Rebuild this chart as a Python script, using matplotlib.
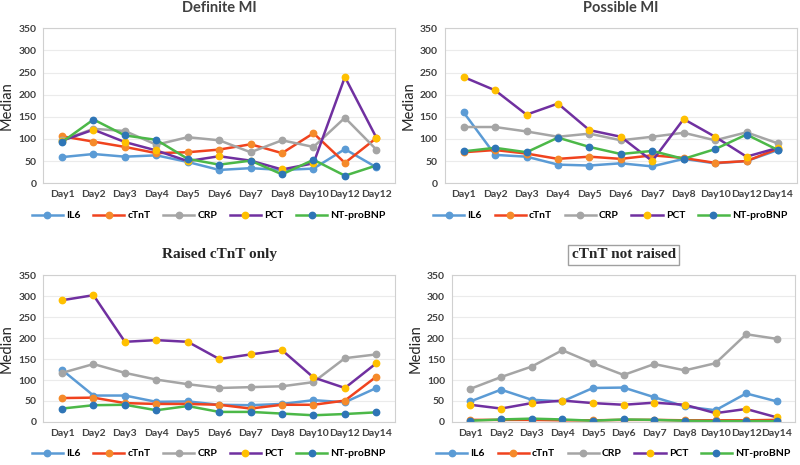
import numpy as np
import matplotlib
matplotlib.use('Agg')
import matplotlib.pyplot as plt

plt.rcParams['font.family'] = ['Lato', 'DejaVu Sans']

series = ['IL6', 'cTnT', 'CRP', 'PCT', 'NT-proBNP']
days_top1 = ['Day1', 'Day2', 'Day3', 'Day4', 'Day5', 'Day6', 'Day7', 'Day8', 'Day10', 'Day12', 'Day12']
days = ['Day1', 'Day2', 'Day3', 'Day4', 'Day5', 'Day6', 'Day7', 'Day8', 'Day10', 'Day12', 'Day14']

# Definite MI
def_il6 = [59, 66, 60, 63, 48, 30, 34, 30, 33, 77, 36]
def_ctnt = [106, 94, 82, 68, 70, 76, 88, 68, 113, 46, 102]
def_crp = [97, 123, 118, 87, 104, 97, 70, 97, 82, 148, 76]
def_pct = [96, 121, 93, 74, 50, 61, 51, 31, 45, 240, 103]
def_bnp = [93, 144, 108, 98, 55, 42, 51, 20, 53, 17, 40]

# Possible MI
pos_il6 = [160, 64, 60, 42, 40, 45, 38, 55, 45, 50, 75]
pos_ctnt = [70, 75, 67, 55, 60, 55, 63, 57, 46, 50, 78]
pos_crp = [127, 127, 117, 105, 112, 97, 105, 114, 97, 115, 90]
pos_pct = [240, 210, 155, 180, 120, 105, 50, 145, 105, 60, 80]
pos_bnp = [72, 80, 70, 103, 82, 66, 73, 55, 77, 110, 75]

# Raised cTnT only
ras_il6 = [124, 63, 63, 48, 49, 41, 40, 43, 52, 47, 81]
ras_ctnt = [57, 58, 45, 43, 43, 41, 32, 41, 41, 51, 108]
ras_crp = [117, 138, 117, 101, 90, 81, 83, 85, 95, 152, 161]
ras_pct = [290, 302, 191, 195, 191, 150, 161, 171, 106, 81, 140]
ras_bnp = [32, 40, 41, 28, 38, 24, 24, 20, 16, 19, 23]

# cTnT not raised
not_il6 = [49, 77, 53, 49, 81, 82, 59, 37, 28, 68, 49]
not_ctnt = [5, 5, 5, 4, 4, 5, 5, 4, 4, 4, 5]
not_crp = [79, 107, 132, 171, 140, 112, 138, 123, 140, 209, 198]
not_pct = [41, 32, 45, 51, 45, 41, 46, 41, 21, 31, 11]
not_bnp = [3, 6, 8, 6, 3, 6, 5, 3, 2, 2, 2]

line_cols = ['#5B9BD5', '#F0431E', '#A5A5A5', '#7030A0', '#4CB848']
mark_cols = ['#5B9BD5', '#F58A2A', '#A5A5A5', '#FFC000', '#2E75B6']


def panel(ax, labels, data, title, serif=False, boxed=False):
    x = np.arange(len(labels))
    for vals, name, lc, mc in zip(data, series, line_cols, mark_cols):
        ax.plot(x, vals, '-o', color=lc, lw=1.8, ms=4.6, mfc=mc, mec=mc, label=name)
    ax.set_xlim(-0.6, len(labels) - 0.4)
    ax.set_ylim(0, 350)
    ax.set_yticks(np.arange(0, 351, 50))
    ax.set_xticks(x)
    ax.set_xticklabels(labels)
    ax.grid(axis='y', color='#EBEBEB', lw=0.8)
    ax.set_axisbelow(True)
    for s in ax.spines.values():
        s.set_color('#D0D0D0')
    ax.tick_params(length=0, labelsize=7.5, colors='#404040', pad=5)
    for t in ax.get_xticklabels() + ax.get_yticklabels():
        t.set_fontweight('bold')
    ax.set_ylabel('Median', fontsize=10.5, color='#262626', labelpad=3)
    if serif:
        kw = dict(family='Liberation Serif', fontsize=11, fontweight='bold', color='#262626')
        if boxed:
            kw['bbox'] = dict(boxstyle='square,pad=0.25', fc='white', ec='#A0A0A0')
        ax.set_title(title, pad=12, **kw)
    else:
        ax.set_title(title, fontsize=10.5, fontweight='bold', color='#404040', pad=12)
    ax.legend(loc='upper center', bbox_to_anchor=(0.47, -0.12), ncol=5, frameon=False,
              handlelength=3.0, columnspacing=1.2, handletextpad=0.3,
              prop={'weight': 'bold', 'size': 7.5})


fig = plt.figure(figsize=(8, 4.65), dpi=100)
ax1 = fig.add_axes([0.054, 0.606, 0.44, 0.333])
ax2 = fig.add_axes([0.556, 0.606, 0.44, 0.333])
ax3 = fig.add_axes([0.054, 0.0925, 0.44, 0.316])
ax4 = fig.add_axes([0.565, 0.0925, 0.429, 0.316])

panel(ax1, days_top1, [def_il6, def_ctnt, def_crp, def_pct, def_bnp], 'Definite MI')
panel(ax2, days, [pos_il6, pos_ctnt, pos_crp, pos_pct, pos_bnp], 'Possible MI')
panel(ax3, days, [ras_il6, ras_ctnt, ras_crp, ras_pct, ras_bnp], 'Raised cTnT only', serif=True)
panel(ax4, days, [not_il6, not_ctnt, not_crp, not_pct, not_bnp], 'cTnT not raised', serif=True, boxed=True)

fig.savefig('out.png', dpi=100)
